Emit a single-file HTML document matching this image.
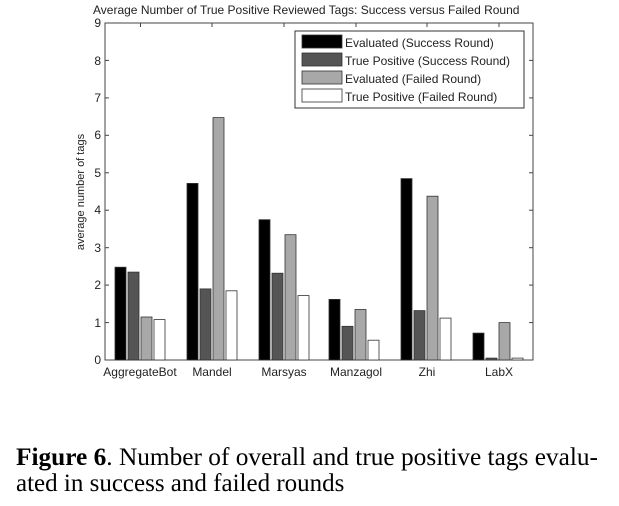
<!DOCTYPE html>
<html><head><style>body{margin:0;background:#fff}</style></head><body>
<svg width="619" height="501" xmlns="http://www.w3.org/2000/svg" font-family="Liberation Sans, sans-serif">
<rect width="619" height="501" fill="#fff"/>
<text x="93" y="14" font-size="12" fill="#222">Average Number of True Positive Reviewed Tags: Success versus Failed Round</text>
<rect x="105" y="23" width="428" height="337" fill="#fff" stroke="#444" stroke-width="1"/>
<g font-size="12" fill="#222" text-anchor="end">
<text x="101" y="364">0</text><text x="101" y="327">1</text><text x="101" y="289">2</text><text x="101" y="252">3</text><text x="101" y="214">4</text><text x="101" y="177">5</text><text x="101" y="139">6</text><text x="101" y="102">7</text><text x="101" y="65">8</text><text x="101" y="27">9</text>
</g>
<g stroke="#444">
<line x1="105" y1="322.6" x2="109" y2="322.6"/><line x1="105" y1="285.1" x2="109" y2="285.1"/><line x1="105" y1="247.7" x2="109" y2="247.7"/><line x1="105" y1="210.2" x2="109" y2="210.2"/><line x1="105" y1="172.8" x2="109" y2="172.8"/><line x1="105" y1="135.3" x2="109" y2="135.3"/><line x1="105" y1="97.9" x2="109" y2="97.9"/><line x1="105" y1="60.4" x2="109" y2="60.4"/>
<line x1="533" y1="322.6" x2="529" y2="322.6"/><line x1="533" y1="285.1" x2="529" y2="285.1"/><line x1="533" y1="247.7" x2="529" y2="247.7"/><line x1="533" y1="210.2" x2="529" y2="210.2"/><line x1="533" y1="172.8" x2="529" y2="172.8"/><line x1="533" y1="135.3" x2="529" y2="135.3"/><line x1="533" y1="97.9" x2="529" y2="97.9"/><line x1="533" y1="60.4" x2="529" y2="60.4"/>
<line x1="140.5" y1="23" x2="140.5" y2="27"/><line x1="212" y1="23" x2="212" y2="27"/><line x1="284" y1="23" x2="284" y2="27"/><line x1="356" y1="23" x2="356" y2="27"/><line x1="427" y1="23" x2="427" y2="27"/><line x1="499" y1="23" x2="499" y2="27"/>
</g>
<text transform="translate(84,192) rotate(-90)" font-size="11" fill="#222" text-anchor="middle">average number of tags</text>
<g font-size="12" fill="#222" text-anchor="middle">
<text x="140" y="376">AggregateBot</text><text x="212" y="376">Mandel</text><text x="284" y="376">Marsyas</text><text x="356" y="376">Manzagol</text><text x="427" y="376">Zhi</text><text x="499" y="376">LabX</text>
</g>
<g stroke="#333" stroke-width="0.8">
<rect x="115" y="267.2" width="11" height="92.8" fill="#000"/><rect x="128" y="272.1" width="11" height="87.9" fill="#555"/><rect x="141" y="317" width="11" height="43" fill="#a8a8a8"/><rect x="154" y="319.6" width="11" height="40.4" fill="#fff"/>
<rect x="187" y="183.4" width="11" height="176.6" fill="#000"/><rect x="200" y="288.9" width="11" height="71.1" fill="#555"/><rect x="213" y="117.6" width="11" height="242.4" fill="#a8a8a8"/><rect x="226" y="290.8" width="11" height="69.2" fill="#fff"/>
<rect x="259" y="219.7" width="11" height="140.3" fill="#000"/><rect x="272" y="273.2" width="11" height="86.8" fill="#555"/><rect x="285" y="234.7" width="11" height="125.3" fill="#a8a8a8"/><rect x="298" y="295.6" width="11" height="64.4" fill="#fff"/>
<rect x="329" y="299.4" width="11" height="60.6" fill="#000"/><rect x="342" y="326.3" width="11" height="33.7" fill="#555"/><rect x="355" y="309.5" width="11" height="50.5" fill="#a8a8a8"/><rect x="368" y="340.2" width="11" height="19.8" fill="#fff"/>
<rect x="401" y="178.6" width="11" height="181.4" fill="#000"/><rect x="414" y="310.6" width="11" height="49.4" fill="#555"/><rect x="427" y="196.2" width="11" height="163.8" fill="#a8a8a8"/><rect x="440" y="318.1" width="11" height="41.9" fill="#fff"/>
<rect x="473" y="333.1" width="11" height="26.9" fill="#000"/><rect x="486" y="358.1" width="11" height="1.9" fill="#555"/><rect x="499" y="322.6" width="11" height="37.4" fill="#a8a8a8"/><rect x="512" y="358.1" width="11" height="1.9" fill="#fff"/>
</g>
<rect x="295" y="31" width="229" height="77" fill="#fff" stroke="#333"/>
<g stroke="#333" stroke-width="0.8">
<rect x="302" y="35" width="40" height="13" fill="#000"/><rect x="302" y="53" width="40" height="13" fill="#555"/><rect x="302" y="71" width="40" height="13" fill="#a8a8a8"/><rect x="302" y="89" width="40" height="13" fill="#fff"/>
</g>
<g font-size="12" fill="#222">
<text x="345" y="47">Evaluated (Success Round)</text><text x="345" y="65">True Positive (Success Round)</text><text x="345" y="83">Evaluated (Failed Round)</text><text x="345" y="101">True Positive (Failed Round)</text>
</g>
<g font-family="Liberation Serif, serif" font-size="25" fill="#000">
<text x="16" y="465" textLength="582" lengthAdjust="spacingAndGlyphs"><tspan font-weight="bold">Figure 6</tspan>.  Number of overall and true positive tags evalu-</text>
<text x="16" y="491">ated in success and failed rounds</text>
</g>
</svg>
</body></html>
